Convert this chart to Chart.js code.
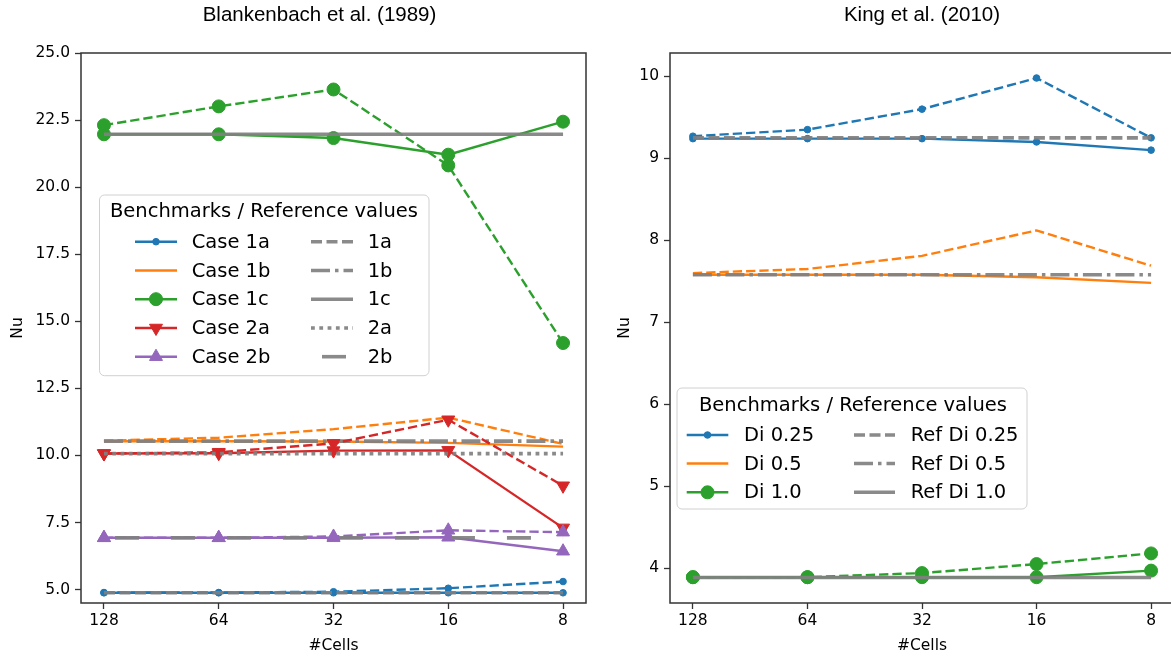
<!DOCTYPE html>
<html>
<head>
<meta charset="utf-8">
<script src="https://cdn.jsdelivr.net/npm/chart.js@4.4.1/dist/chart.umd.min.js"></script>
<style>
  html, body { margin: 0; padding: 0; background: #fff; overflow: hidden; }
  #wrap { position: relative; width: 1171px; height: 658px; overflow: hidden; }
  canvas { position: absolute; top: 0; }
</style>
</head>
<body>
<div id="wrap">
  <canvas id="left" width="600" height="658" style="left:0"></canvas>
  <canvas id="right" width="600" height="658" style="left:600px"></canvas>
</div>
<script>
// x categories (number of cells)
const cells = ['128', '64', '32', '16', '8'];
const xPos = [0, 1, 2, 3, 4];

// Blankenbach et al. (1989)
const case1a     = [4.88, 4.88, 4.88, 4.88, 4.88];
const case1aDash = [4.89, 4.89, 4.92, 5.05, 5.30];
const case1b     = [10.53, 10.53, 10.52, 10.47, 10.33];
const case1bDash = [10.55, 10.66, 10.98, 11.41, 10.43];
const case1c     = [21.97, 21.97, 21.83, 21.21, 22.44];
const case1cDash = [22.31, 23.01, 23.64, 20.81, 14.19];
const case2a     = [10.07, 10.08, 10.18, 10.19, 7.30];
const case2aDash = [10.07, 10.12, 10.45, 11.33, 8.87];
const case2b     = [6.93, 6.93, 6.93, 6.95, 6.43];
const case2bDash = [6.93, 6.93, 6.98, 7.21, 7.14];
const refBlankenbach = [4.884, 10.534, 21.972, 10.066, 6.929];
const leftTicks = [5, 7.5, 10, 12.5, 15, 17.5, 20, 22.5, 25];

// King et al. (2010)
const di025     = [9.24, 9.24, 9.24, 9.20, 9.10];
const di025Dash = [9.27, 9.35, 9.60, 9.98, 9.25];
const di05      = [7.58, 7.58, 7.58, 7.55, 7.48];
const di05Dash  = [7.60, 7.65, 7.81, 8.12, 7.69];
const di10      = [3.89, 3.89, 3.89, 3.89, 3.97];
const di10Dash  = [3.89, 3.89, 3.94, 4.05, 4.18];
const refKing = [9.25, 7.58, 3.887];
const rightTicks = [4, 5, 6, 7, 8, 9, 10];

const C = { blue: '#1f77b4', orange: '#ff7f0e', green: '#2ca02c', red: '#d62728', purple: '#9467bd' };
const GRAY = 'rgba(128,128,128,0.92)';
const frameColor = '#333333';
const tickFont = { family: 'DejaVu Sans', size: 15.5 };
const labelFont = { family: 'DejaVu Sans', size: 15.5 };
const legendFont = '19.5px "DejaVu Sans"';

// marker styles for the benchmark lines
const mk = {
  dot:   { style: 'circle', r: 3.3, rot: 0 },
  none:  null,
  circ:  { style: 'circle', r: 6.5, rot: 0 },
  tdown: { style: 'triangle', r: 7.5, rot: 180 },
  tup:   { style: 'triangle', r: 7.5, rot: 0 }
};
// reference line dash patterns
const dashes = {
  dashed:  { dash: [11, 4.5], off: 0 },
  dashdot: { dash: [19, 5, 3.5, 5], off: 0 },
  solid:   { dash: [], off: 0 },
  dotted:  { dash: [3.8, 4.5], off: 0 },
  loose:   { dash: [24, 32], off: 45 }
};

let ord = 200;
function caseSet(label, values, color, marker, dashed) {
  return {
    label: label,
    data: values.map((v, i) => ({ x: xPos[i], y: v })),
    borderColor: color,
    backgroundColor: color,
    borderWidth: 2.4,
    borderDash: dashed ? [9.3, 4] : [],
    tension: 0,
    fill: false,
    pointStyle: marker ? marker.style : 'circle',
    pointRadius: marker ? marker.r : 0,
    pointRotation: marker ? marker.rot : 0,
    pointBorderWidth: 1,
    pointBackgroundColor: color,
    pointBorderColor: color,
    order: ord--,
    _marker: marker
  };
}
function refSet(label, value, ds) {
  return {
    label: label,
    data: xPos.map(x => ({ x: x, y: value })),
    borderColor: GRAY,
    borderWidth: 3.6,
    borderDash: ds.dash,
    borderDashOffset: ds.off,
    pointRadius: 0,
    tension: 0,
    fill: false,
    order: ord--,
    _marker: null
  };
}

// left chart datasets
const l1a = caseSet('Case 1a', case1a, C.blue, mk.dot, false);
const l1aD = caseSet('Case 1a dashed', case1aDash, C.blue, mk.dot, true);
const r1a = refSet('1a', refBlankenbach[0], dashes.dashed);
const l1b = caseSet('Case 1b', case1b, C.orange, mk.none, false);
const l1bD = caseSet('Case 1b dashed', case1bDash, C.orange, mk.none, true);
const r1b = refSet('1b', refBlankenbach[1], dashes.dashdot);
const l1c = caseSet('Case 1c', case1c, C.green, mk.circ, false);
const l1cD = caseSet('Case 1c dashed', case1cDash, C.green, mk.circ, true);
const r1c = refSet('1c', refBlankenbach[2], dashes.solid);
const l2a = caseSet('Case 2a', case2a, C.red, mk.tdown, false);
const l2aD = caseSet('Case 2a dashed', case2aDash, C.red, mk.tdown, true);
const r2a = refSet('2a', refBlankenbach[3], dashes.dotted);
const l2b = caseSet('Case 2b', case2b, C.purple, mk.tup, false);
const l2bD = caseSet('Case 2b dashed', case2bDash, C.purple, mk.tup, true);
const r2b = refSet('2b', refBlankenbach[4], dashes.loose);

// right chart datasets
ord = 200;
const k1 = caseSet('Di 0.25', di025, C.blue, mk.dot, false);
const k1D = caseSet('Di 0.25 dashed', di025Dash, C.blue, mk.dot, true);
const rk1 = refSet('Ref Di 0.25', refKing[0], dashes.dashed);
const k2 = caseSet('Di 0.5', di05, C.orange, mk.none, false);
const k2D = caseSet('Di 0.5 dashed', di05Dash, C.orange, mk.none, true);
const rk2 = refSet('Ref Di 0.5', refKing[1], dashes.dashdot);
const k3 = caseSet('Di 1.0', di10, C.green, mk.circ, false);
const k3D = caseSet('Di 1.0 dashed', di10Dash, C.green, mk.circ, true);
const rk3 = refSet('Ref Di 1.0', refKing[2], dashes.solid);

function drawMarker(ctx, m, x, y, color) {
  ctx.fillStyle = color;
  ctx.strokeStyle = color;
  ctx.lineWidth = 1;
  ctx.setLineDash([]);
  ctx.beginPath();
  if (m.style === 'circle') {
    ctx.arc(x, y, m.r, 0, Math.PI * 2);
  } else {
    let rad = m.rot * Math.PI / 180;
    ctx.moveTo(x + Math.sin(rad) * m.r, y - Math.cos(rad) * m.r);
    rad += 2 * Math.PI / 3;
    ctx.lineTo(x + Math.sin(rad) * m.r, y - Math.cos(rad) * m.r);
    rad += 2 * Math.PI / 3;
    ctx.lineTo(x + Math.sin(rad) * m.r, y - Math.cos(rad) * m.r);
  }
  ctx.closePath();
  ctx.fill();
  ctx.stroke();
}

function drawLegend(chart, lg) {
  const ctx = chart.ctx;
  const ox = lg.canvasLeft;
  ctx.save();
  const [x0, y0, x1, y1] = lg.box.map((v, i) => i % 2 === 0 ? v - ox : v);
  ctx.beginPath();
  ctx.roundRect(x0, y0, x1 - x0, y1 - y0, 5);
  ctx.fillStyle = 'rgba(255,255,255,0.8)';
  ctx.fill();
  ctx.strokeStyle = '#d0d0d0';
  ctx.lineWidth = 1;
  ctx.stroke();

  ctx.font = legendFont;
  ctx.fillStyle = '#000';
  ctx.textBaseline = 'middle';
  ctx.textAlign = 'center';
  ctx.fillText(lg.title, lg.titleX - ox, lg.titleY);
  ctx.textAlign = 'left';

  lg.cols.forEach(col => {
    col.items.forEach((item, i) => {
      const ds = item[0];
      const y = lg.rowY[i];
      const hx0 = col.hx[0] - ox, hx1 = col.hx[1] - ox;
      ctx.strokeStyle = ds.borderColor;
      ctx.lineWidth = ds.borderWidth;
      ctx.setLineDash(ds.borderDash || []);
      ctx.lineDashOffset = ds.borderDashOffset || 0;
      ctx.beginPath();
      ctx.moveTo(hx0, y);
      ctx.lineTo(hx1, y);
      ctx.stroke();
      ctx.setLineDash([]);
      ctx.lineDashOffset = 0;
      if (ds._marker) drawMarker(ctx, ds._marker, (hx0 + hx1) / 2, y, ds.borderColor);
      ctx.fillStyle = '#000';
      ctx.font = legendFont;
      ctx.fillText(item[1], col.tx - ox, y + 1);
    });
  });
  ctx.restore();
}

const framePlugin = {
  id: 'frame',
  afterDatasetsDraw(chart) {
    const { ctx, chartArea: a } = chart;
    ctx.save();
    ctx.strokeStyle = frameColor;
    ctx.lineWidth = 1.5;
    ctx.strokeRect(a.left, a.top, a.right - a.left, a.bottom - a.top);
    ctx.restore();
  },
  afterDraw(chart) {
    const o = chart.options.plugins.frame;
    const ctx = chart.ctx;
    const a = chart.chartArea;
    ctx.save();
    ctx.font = '20.5px "Liberation Sans"';
    ctx.fillStyle = '#000';
    ctx.textAlign = 'center';
    ctx.textBaseline = 'alphabetic';
    ctx.fillText(o.title, (a.left + a.right) / 2 + o.titleShift, 21);
    ctx.restore();
    drawLegend(chart, o.legend);
  }
};

function makeOptions(cfg) {
  const grid = { display: true, drawOnChartArea: false, drawTicks: true, tickLength: 6, color: frameColor, tickWidth: 1.3 };
  return {
    responsive: false,
    animation: false,
    events: [],
    layout: { padding: cfg.padding },
    plugins: {
      legend: { display: false },
      tooltip: { enabled: false },
      title: { display: false },
      frame: cfg.frame
    },
    scales: {
      x: {
        type: 'linear',
        min: -0.2,
        max: 4.2,
        afterBuildTicks: s => { s.ticks = xPos.map(v => ({ value: v })); },
        afterFit: s => { s.height = 55; },
        ticks: { callback: v => cells[v], font: tickFont, color: '#000', padding: 3, maxRotation: 0, autoSkip: false },
        grid: grid,
        border: { display: false },
        title: { display: true, text: '#Cells', color: '#000', font: labelFont, padding: { top: 0, bottom: 3 } }
      },
      y: {
        type: 'linear',
        min: cfg.yMin,
        max: cfg.yMax,
        afterBuildTicks: s => { s.ticks = cfg.yTicks.map(v => ({ value: v })); },
        afterFit: s => { s.width = cfg.yWidth; },
        ticks: { callback: cfg.yFmt, font: tickFont, color: '#000', padding: 5, autoSkip: false },
        grid: grid,
        border: { display: false },
        title: { display: true, text: 'Nu', color: '#000', font: labelFont, padding: { top: cfg.yTitlePad, bottom: 0 } }
      }
    }
  };
}

new Chart(document.getElementById('left').getContext('2d'), {
  type: 'line',
  data: { datasets: [l1a, l1aD, r1a, l1b, l1bD, r1b, l1c, l1cD, r1c, l2a, l2aD, r2a, l2b, l2bD, r2b] },
  options: makeOptions({
    padding: { left: 0, top: 53, right: 14, bottom: 0 },
    yMin: 4.5, yMax: 25, yTicks: leftTicks, yWidth: 81, yTitlePad: 9,
    yFmt: v => v.toFixed(1),
    frame: {
      title: 'Blankenbach et al. (1989)', titleShift: -14,
      legend: {
        canvasLeft: 0,
        box: [99.5, 195, 429, 375.7],
        title: 'Benchmarks / Reference values', titleX: 264, titleY: 212,
        rowY: [241.7, 270.5, 299.2, 328, 356.7],
        cols: [
          { hx: [135, 177], tx: 191.7, items: [[l1a, 'Case 1a'], [l1b, 'Case 1b'], [l1c, 'Case 1c'], [l2a, 'Case 2a'], [l2b, 'Case 2b']] },
          { hx: [311, 353], tx: 367.7, items: [[r1a, '1a'], [r1b, '1b'], [r1c, '1c'], [r2a, '2a'], [r2b, '2b']] }
        ]
      }
    }
  }),
  plugins: [framePlugin]
});

new Chart(document.getElementById('right').getContext('2d'), {
  type: 'line',
  data: { datasets: [k1, k1D, rk1, k2, k2D, rk2, k3, k3D, rk3] },
  options: makeOptions({
    padding: { left: 0, top: 53, right: 26, bottom: 0 },
    yMin: 3.575, yMax: 10.285, yTicks: rightTicks, yWidth: 70, yTitlePad: 16,
    yFmt: v => String(v),
    frame: {
      title: 'King et al. (2010)', titleShift: 0,
      legend: {
        canvasLeft: 600,
        box: [677, 388, 1027, 509],
        title: 'Benchmarks / Reference values', titleX: 853, titleY: 406,
        rowY: [435, 463.5, 492.3],
        cols: [
          { hx: [686.7, 728.3], tx: 744, items: [[k1, 'Di 0.25'], [k2, 'Di 0.5'], [k3, 'Di 1.0']] },
          { hx: [854, 895], tx: 910.7, items: [[rk1, 'Ref Di 0.25'], [rk2, 'Ref Di 0.5'], [rk3, 'Ref Di 1.0']] }
        ]
      }
    }
  }),
  plugins: [framePlugin]
});
</script>
</body>
</html>
